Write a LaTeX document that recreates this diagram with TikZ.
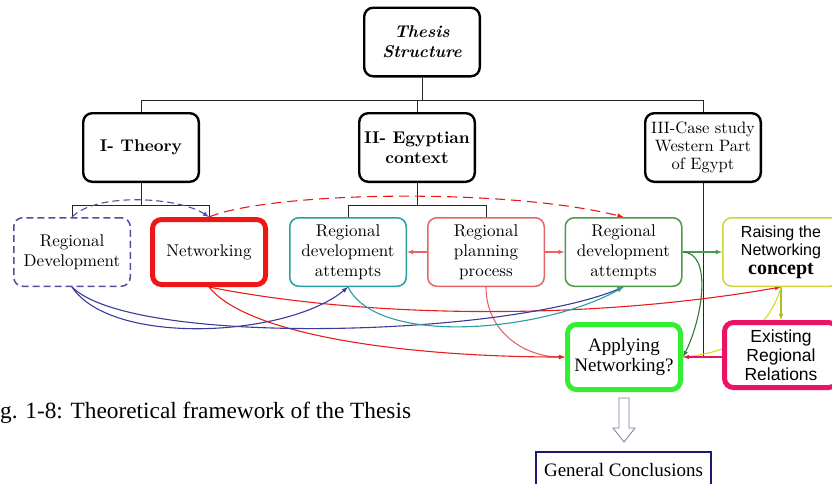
\documentclass[tikz,border=0pt]{standalone}
\usepackage{fontspec}
\usepackage{tikz}
\usetikzlibrary{calc}
\setmainfont{lmroman10-regular.otf}[BoldFont=lmroman10-bold.otf, ItalicFont=lmroman10-italic.otf, BoldItalicFont=lmroman10-bolditalic.otf]
\newfontfamily\arialfont{Liberation Sans}
\newfontfamily\timesfont{Liberation Serif}
\definecolor{dashblue}{RGB}{80,80,160}
\definecolor{curveblue}{RGB}{58,58,154}
\definecolor{netred}{RGB}{238,22,22}
\definecolor{curvered}{RGB}{230,30,30}
\definecolor{tealc}{RGB}{42,157,157}
\definecolor{salmon}{RGB}{232,100,100}
\definecolor{attgreen}{RGB}{74,154,74}
\definecolor{darkgreen}{RGB}{46,125,50}
\definecolor{raiseyel}{RGB}{204,212,58}
\definecolor{olive}{RGB}{168,192,32}
\definecolor{yelline}{RGB}{216,216,32}
\definecolor{pinkc}{RGB}{236,18,102}
\definecolor{brightgreen}{RGB}{51,238,51}
\definecolor{navy}{RGB}{26,26,110}
\definecolor{hollowc}{RGB}{122,122,168}
\pgfdeclarelayer{background}
\pgfsetlayers{background,main}

\begin{document}
\begin{tikzpicture}[x=1pt,y=1pt]
	\tikzstyle{every node}+=[inner sep=0pt, align=center]
	\tikzstyle{box}=[rounded corners=9pt, fill=white, font=\fontsize{17}{20}\selectfont]
	\tikzstyle{topbox}=[box, draw=black, line width=2.4pt, minimum width=115.6pt, minimum height=68.6pt]
	\tikzstyle{thinbox}=[box, line width=1.5pt, minimum width=116.5pt, minimum height=68.5pt]
	\tikzstyle{thickbox}=[box, line width=5pt, minimum width=113pt, minimum height=65pt]
	\tikzstyle{treeline}=[draw=black!85, line width=0.7pt]
	\tikzstyle{link}=[line width=1.1pt, -latex]
	\path [use as bounding box] (0,0) rectangle (832,-483);
	\clip (0,0) rectangle (832,-483);
	\node [topbox, font=\fontsize{17}{20}\selectfont\bfseries\itshape] (thesis) at (422,-42) {Thesis\\Structure};
	\node [topbox, font=\fontsize{17}{20}\selectfont\bfseries] (theory) at (141,-147.5) {I- Theory};
	\node [topbox, font=\fontsize{17}{20}\selectfont\bfseries] (egypt) at (417,-147.5) {II- Egyptian\\context};
	\node [topbox, font=\fontsize{16.5}{18}\selectfont] (casestudy) at (703,-147.5) {III-Case study\\Western Part\\of Egypt};
	\node [thinbox, draw=dashblue, dash pattern=on 7pt off 4pt] (regdev) at (72,-252) {Regional\\Development};
	\node [thickbox, draw=netred] (netw) at (209,-252) {Networking};
	\node [thinbox, draw=tealc] (attemptsA) at (348,-252) {Regional\\development\\attempts};
	\node [thinbox, draw=salmon] (planning) at (486,-252) {Regional\\planning\\process};
	\node [thinbox, draw=attgreen] (attemptsB) at (623.5,-252) {Regional\\development\\attempts};
	\node [thinbox, draw=raiseyel, font=\fontsize{16}{18.5}\selectfont\arialfont] (raising) at (781,-252) {Raising the\\Networking\\{\timesfont\bfseries\fontsize{20}{18.5}\selectfont concept}};
	\node [thickbox, draw=brightgreen, font=\fontsize{19}{20}\selectfont\timesfont] (applying) at (624,-357) {Applying\\Networking?};
	\node [thickbox, draw=pinkc, font=\fontsize{17.5}{19}\selectfont\arialfont] (existing) at (781,-355) {Existing\\Regional\\Relations};
	\node [draw=navy, line width=2.4pt, fill=white, minimum width=175pt, minimum height=36pt, font=\fontsize{19}{20}\selectfont\timesfont] (conclusions) at (623.5,-470) {General Conclusions};
	\node [anchor=west, font=\fontsize{23.3}{26}\selectfont\timesfont] (caption) at (0,-413) {g. 1-8: Theoretical framework of the Thesis};
	\coordinate (bus) at (0,-100);
	\coordinate (busI) at (0,-205);
	\begin{pgfonlayer}{background}
		\draw [treeline] (thesis.south) -- (thesis.south |- bus);
		\draw [treeline] (theory.north |- bus) -- (casestudy.north |- bus);
		\draw [treeline] (theory.north |- bus) -- (theory.north);
		\draw [treeline] (egypt.north |- bus) -- (egypt.north);
		\draw [treeline] (casestudy.north |- bus) -- (casestudy.north);
		\draw [treeline] (theory.south) -- (theory.south |- busI);
		\draw [treeline] (regdev.north) |- (netw.north |- busI) -- (netw.north);
		\draw [treeline] (egypt.south) -- (egypt.south |- busI);
		\draw [treeline] (attemptsA.north) |- (planning.north |- busI) -- (planning.north);
		\draw [treeline] (casestudy.south) -- (casestudy.south |- applying.east);
		\draw [link, dashblue, dash pattern=on 7pt off 4pt] (regdev.north) .. controls +(25,25) and +(-30,20) .. (netw.north);
		\draw [link, netred, dash pattern=on 10pt off 6pt] (netw.north) .. controls +(60,25) and +(-120,30) .. (attemptsB.north);
		\draw [link, salmon] (planning.west) -- (attemptsA.east);
		\draw [link, salmon] (planning.east) -- (attemptsB.west);
		\draw [link, salmon] (planning.south) .. controls +(0,-45) and +(-40,0) .. (applying.west);
		\draw [link, attgreen] (attemptsB.east) -- (raising.west);
		\draw [link, darkgreen] (attemptsB.east) .. controls +(30,0) and +(20,40) .. (applying.east);
		\draw [link, curvered] (netw.south) .. controls +(150,-30) and +(-200,-35) .. (raising.south);
		\draw [link, curvered] (netw.south) .. controls +(40,-50) and +(-150,0) .. (applying.west);
		\draw [link, curveblue] (regdev.south) .. controls +(40,-60) and +(-60,-50) .. (attemptsA.south);
		\draw [link, curveblue] (regdev.south) .. controls +(60,-60) and +(-120,-50) .. (attemptsB.south);
		\draw [link, tealc] (attemptsA.south) .. controls +(30,-60) and +(-80,-45) .. (attemptsB.south);
		\draw [link, olive] (raising.south) -- (raising.south |- existing.north);
		\draw [line width=1.1pt, yelline] (raising.south) .. controls +(-10,-35) and +(60,5) .. (applying.east);
		\draw [link, pinkc] (existing.west |- applying.east) -- (applying.east);
	\end{pgfonlayer}
	\draw [hollowc, line width=0.8pt, fill=white] ($(applying.south)+(-5,-6)$) -- ++(0,-30) -- ++(-6,0) -- ($(applying.south)+(0,-50)$) -- ($(applying.south)+(11,-36)$) -- ++(-6,0) -- ($(applying.south)+(5,-6)$) -- cycle;
\end{tikzpicture}
\end{document}
